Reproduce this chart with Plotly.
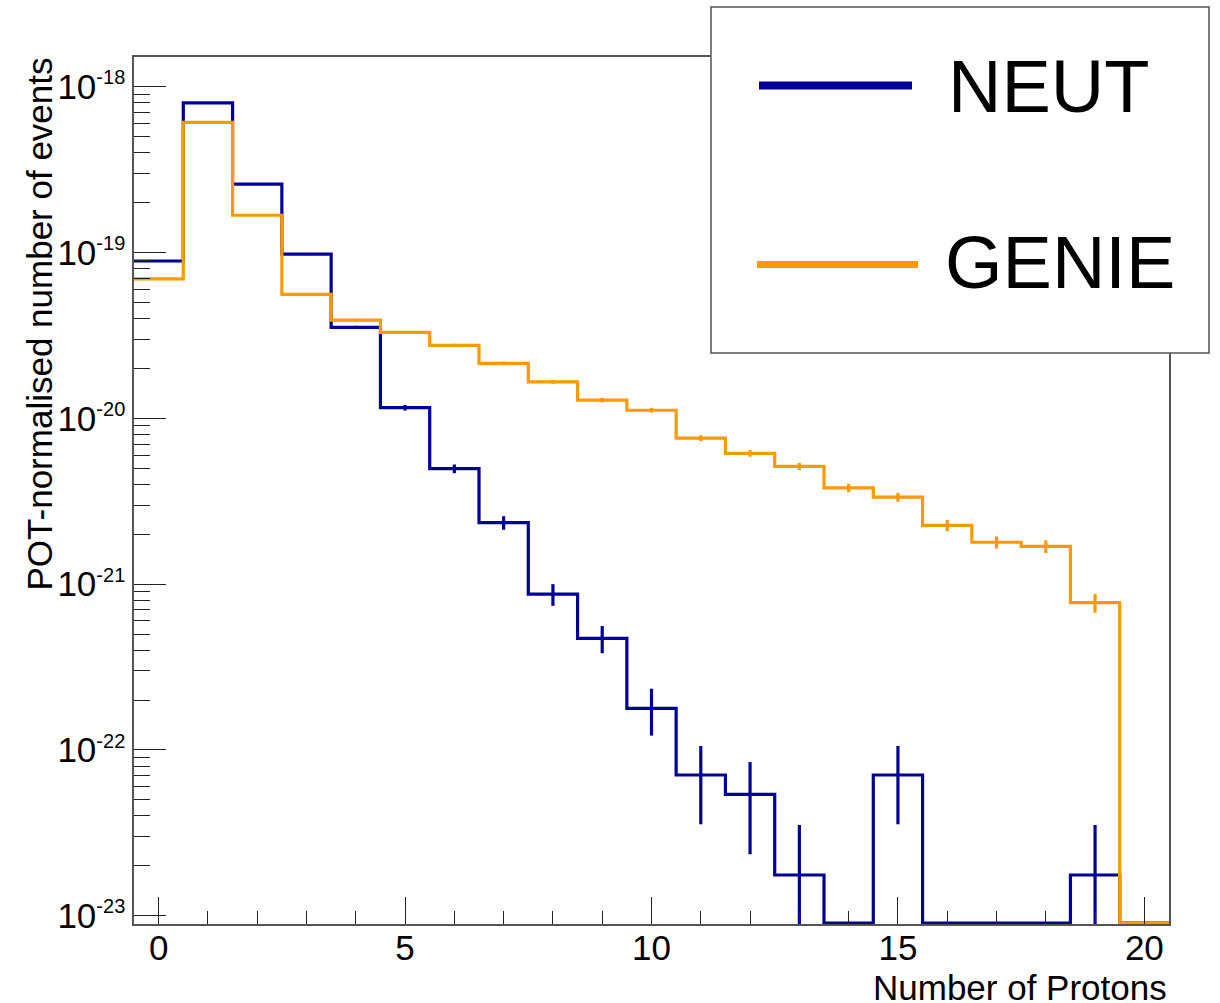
import plotly.graph_objects as go

# ---------------- data ----------------
bin_centers = list(range(0, 21))  # Number of protons

neut_values = [8.9e-20, 8.0e-19, 2.59e-19, 9.8e-20, 3.54e-20, 1.16e-20, 4.97e-21,
               2.35e-21, 8.7e-22, 4.71e-22, 1.78e-22, 7.06e-23, 5.4e-23, 1.76e-23,
               0.0, 7.06e-23, 0.0, 0.0, 0.0, 1.76e-23, 0.0]
neut_errors = [1.25e-21, 3.75e-21, 2.13e-21, 1.31e-21, 7.9e-22, 4.5e-22, 3.0e-22,
               2.2e-22, 1.3e-22, 8.8e-23, 5.6e-23, 3.5e-23, 3.05e-23, 1.76e-23,
               0.0, 3.5e-23, 0.0, 0.0, 0.0, 1.76e-23, 0.0]

genie_values = [6.95e-20, 6.1e-19, 1.68e-19, 5.6e-20, 3.91e-20, 3.30e-20, 2.76e-20,
                2.15e-20, 1.66e-20, 1.29e-20, 1.12e-20, 7.6e-21, 6.15e-21, 5.13e-21,
                3.81e-21, 3.35e-21, 2.26e-21, 1.79e-21, 1.69e-21, 7.73e-22, 0.0]
genie_errors = [9.5e-22, 2.8e-21, 1.47e-21, 8.5e-22, 7.1e-22, 6.5e-22, 6.0e-22,
                5.3e-22, 4.6e-22, 4.1e-22, 3.8e-22, 3.1e-22, 2.8e-22, 2.57e-22,
                2.2e-22, 2.08e-22, 1.75e-22, 1.5e-22, 1.5e-22, 1.0e-22, 0.0]

y_tick_vals = [1e-23, 1e-22, 1e-21, 1e-20, 1e-19, 1e-18]
y_tick_exps = ["-23", "-22", "-21", "-20", "-19", "-18"]
x_title = "Number of Protons"
y_title = "POT-normalised number of events"
series_names = ["NEUT", "GENIE"]

# ---------------- style ----------------
W, H = 1220, 1003
ML, MR, MT, MB = 134, 51, 57, 79
FONT = "Liberation Sans, Arial, Helvetica, sans-serif"
BLUE = "#000099"
ORANGE = "#FF9900"
Y_LOG_RANGE = [-23.05, -17.82]
FLOOR = 10 ** (Y_LOG_RANGE[0] + 0.006)  # empty bins drawn on the frame bottom (ROOT style)

def px_x(p):
    return (p - ML) / (W - ML - MR)

def px_y(p):
    return (H - MB - p) / (H - MT - MB)

def step_xy(centers, values):
    edges = [c - 0.5 for c in centers] + [centers[-1] + 0.5]
    ys = [v if v > 0 else FLOOR for v in values]
    ys = ys + [ys[-1]]
    return edges, ys

fig = go.Figure()

for name, vals, errs, col in [("NEUT", neut_values, neut_errors, BLUE),
                              ("GENIE", genie_values, genie_errors, ORANGE)]:
    sx, sy = step_xy(bin_centers, vals)
    fig.add_trace(go.Scatter(x=sx, y=sy, mode="lines", line=dict(color=col, width=3.2, shape="hv"),
                             name=name, showlegend=False, hoverinfo="skip"))
    ex = [c for c, v in zip(bin_centers, vals) if v > 0]
    ey = [v for v in vals if v > 0]
    ee = [e for e, v in zip(errs, vals) if v > 0]
    fig.add_trace(go.Scatter(x=ex, y=ey, mode="markers", marker=dict(size=0.1, color=col, opacity=0),
                             error_y=dict(type="data", array=ee, visible=True, color=col,
                                          thickness=3.2, width=0),
                             showlegend=False, hoverinfo="skip"))

axis_common = dict(showline=True, linecolor="#555", linewidth=1.5, mirror=True,
                   showgrid=False, zeroline=False, ticks="inside", tickcolor="#222",
                   tickwidth=1.2, tickfont=dict(family=FONT, size=35, color="black"))

fig.update_xaxes(range=[-0.5, 20.5], tick0=0, dtick=5, ticklen=27, ticklabelstandoff=-8,
                 minor=dict(dtick=1, ticks="inside", ticklen=13, tickcolor="#222", tickwidth=1.2),
                 **axis_common)
fig.update_yaxes(type="log", range=Y_LOG_RANGE, tickvals=y_tick_vals,
                 ticktext=["10<sup><span style='font-size:20px'>%s</span></sup>" % e for e in y_tick_exps],
                 ticklen=32,
                 minor=dict(dtick="D1", ticks="inside", ticklen=16, tickcolor="#222", tickwidth=1.2),
                 **axis_common)

# legend box (drawn as in the ROOT canvas)
shapes = [
    dict(type="rect", xref="paper", yref="paper", x0=px_x(711), x1=px_x(1209),
         y0=px_y(353), y1=px_y(7), line=dict(color="#555", width=1.5), fillcolor="white", layer="above"),
    dict(type="line", xref="paper", yref="paper", x0=px_x(759), x1=px_x(912),
         y0=px_y(85.5), y1=px_y(85.5), line=dict(color=BLUE, width=8), layer="above"),
    dict(type="line", xref="paper", yref="paper", x0=px_x(757), x1=px_x(918),
         y0=px_y(264.5), y1=px_y(264.5), line=dict(color=ORANGE, width=7), layer="above"),
]

annotations = [
    dict(text=series_names[0], xref="paper", yref="paper", x=px_x(946), y=px_y(86),
         xanchor="left", yanchor="middle", showarrow=False, font=dict(family=FONT, size=74, color="black")),
    dict(text=series_names[1], xref="paper", yref="paper", x=px_x(943), y=px_y(262),
         xanchor="left", yanchor="middle", showarrow=False, font=dict(family=FONT, size=74, color="black")),
    dict(text=y_title, xref="paper", yref="paper", x=px_x(39), y=px_y(56),
         xanchor="center", yanchor="top", textangle=-90, showarrow=False,
         font=dict(family=FONT, size=35, color="black")),
    dict(text=x_title, xref="paper", yref="paper", x=px_x(1169), y=px_y(966),
         xanchor="right", yanchor="top", showarrow=False,
         font=dict(family=FONT, size=35, color="black")),
]

fig.update_layout(width=W, height=H, margin=dict(l=ML, r=MR, t=MT, b=MB, pad=0),
                  plot_bgcolor="white", paper_bgcolor="white", showlegend=False,
                  shapes=shapes, annotations=annotations, font=dict(family=FONT))

fig.write_html("out.html")
